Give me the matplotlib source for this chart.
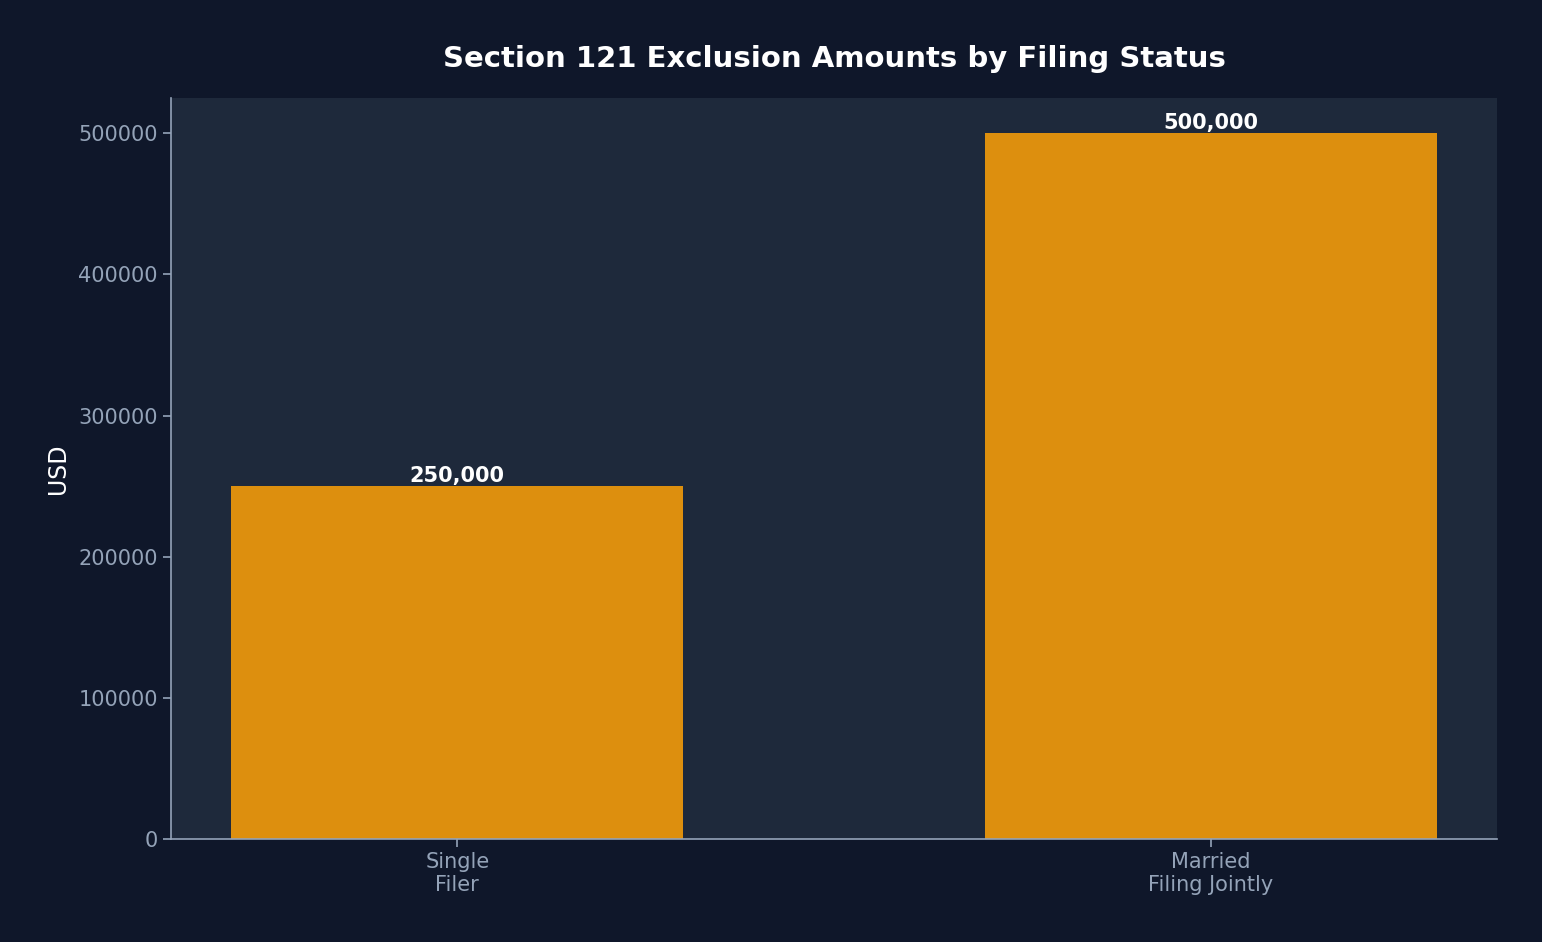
import matplotlib
matplotlib.use("Agg")
import matplotlib.pyplot as plt

categories = ["Single\nFiler", "Married\nFiling Jointly"]
values = [250000, 500000]
value_labels = ["250,000", "500,000"]

fig_bg = "#0f172a"
ax_bg = "#1e293b"
bar_color = "#dd8f0e"
tick_color = "#94a3b8"

fig, ax = plt.subplots(figsize=(15.42, 9.42), dpi=100)
fig.patch.set_facecolor(fig_bg)
ax.set_facecolor(ax_bg)
fig.subplots_adjust(left=171/1542, right=1497/1542, top=1-98/942, bottom=1-839/942)

x = list(range(len(categories)))
bars = ax.bar(x, values, width=0.6, color=bar_color)
for xi, v, lab in zip(x, values, value_labels):
    ax.text(xi, v, lab, ha="center", va="bottom", color="white",
            fontsize=15, fontweight="bold")

ax.set_xticks(x)
ax.set_xticklabels(categories)
ax.tick_params(colors=tick_color, labelsize=15, length=6, width=1.2)
for s in ["top", "right"]:
    ax.spines[s].set_visible(False)
for s in ["left", "bottom"]:
    ax.spines[s].set_color(tick_color)
    ax.spines[s].set_linewidth(1.2)
ax.set_ylabel("USD", color="white", fontsize=17, labelpad=6)
ax.set_title("Section 121 Exclusion Amounts by Filing Status", color="white",
             fontsize=21, fontweight="bold", pad=22)

fig.savefig("out.png", dpi=100, facecolor=fig_bg)
